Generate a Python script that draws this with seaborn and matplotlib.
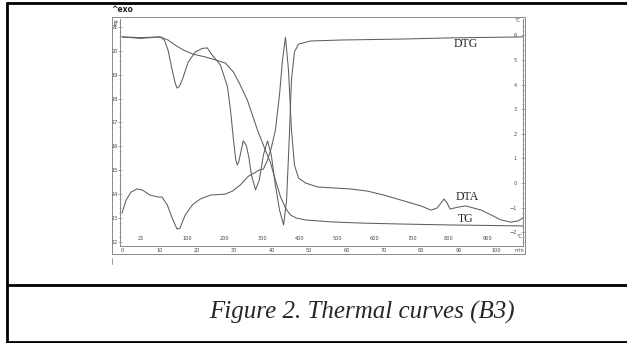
import matplotlib
matplotlib.use("Agg")
import matplotlib.pyplot as plt
import seaborn as sns
from matplotlib.lines import Line2D
from matplotlib.patches import Rectangle
from matplotlib.ticker import MultipleLocator

sns.set_style("white")
plt.rcParams["font.family"] = ["DejaVu Sans"]

# TG (mg, left scale) vs time (min)
tg_time = [0, 5, 10.2, 12.3, 14.2, 16.4, 18.8, 22.3, 24.9, 27.6, 29.8, 31.6, 33.5, 36.2,
           38.1, 39.7, 41.0, 42.4, 43.7, 45.0, 46.6, 49.1, 55.8, 63.8, 74.5, 87.9, 107.2]
tg_mass = [20.58, 20.55, 20.58, 20.45, 20.24, 20.03, 19.87, 19.74, 19.62, 19.49, 19.11, 18.57, 17.94, 16.69,
           15.93, 15.31, 14.59, 13.88, 13.42, 13.13, 13.00, 12.92, 12.84, 12.79, 12.75, 12.71, 12.67]

# DTG (drawn on the mg scale)
dtg_time = [0, 5, 10.2, 11.3, 12.3, 13.4, 14.2, 14.7, 15.3, 16.1, 17.7, 19.6, 21.5, 22.8, 24.1, 26.3,
            28.2, 29.0, 29.8, 30.4, 30.8, 31.2, 31.6, 32.4, 33.2, 33.9, 34.6, 35.7, 36.7, 37.8,
            38.9, 39.9, 41.0, 42.1, 43.2, 44.0, 44.8, 45.3, 46.1, 47.2, 50.4, 58.4, 74.5, 87.9, 107.2]
dtg_val = [20.58, 20.52, 20.58, 20.45, 20.03, 19.2, 18.65, 18.44, 18.50, 18.78, 19.53, 19.95, 20.10, 20.12,
           19.82, 19.41, 18.49, 17.52, 16.27, 15.45, 15.22, 15.35, 15.64, 16.23, 16.05, 15.55, 14.80,
           14.18, 14.59, 15.64, 16.23, 15.64, 14.38, 13.34, 12.71, 13.76, 16.69, 18.78, 19.95, 20.28,
           20.41, 20.45, 20.49, 20.54, 20.58]

# DTA (right scale) vs time (min)
dta_time = [0, 1.1, 2.4, 4.0, 5.4, 7.5, 9.7, 10.7, 12.1, 13.4, 14.7, 15.5, 16.9, 18.8, 20.9, 23.6,
            27.6, 29.5, 31.6, 33.8, 35.4, 36.7, 37.8, 38.9, 39.9, 41.0, 42.1, 42.9, 43.7, 44.5,
            45.3, 46.1, 47.2, 49.1, 52.3, 56.6, 61.1, 65.7, 70.0, 74.5, 79.9, 82.6, 84.2, 86.1,
            86.9, 87.7, 89.8, 91.9, 96.0, 98.7, 101.3, 104.0, 105.9, 107.2]
dta_val = [-1.22, -0.69, -0.37, -0.24, -0.28, -0.49, -0.57, -0.57, -0.89, -1.42, -1.87, -1.83, -1.30,
           -0.89, -0.65, -0.49, -0.45, -0.33, -0.08, 0.28, 0.41, 0.53, 0.57, 0.93, 1.42, 2.15, 3.58,
           5.0, 5.93, 4.59, 2.15, 0.73, 0.20, 0.0, -0.16, -0.20, -0.24, -0.33, -0.49, -0.69, -0.93,
           -1.10, -1.02, -0.65, -0.81, -1.06, -0.98, -0.93, -1.10, -1.30, -1.50, -1.59, -1.54, -1.42]

# furnace temperature labels along the time axis
temp_labels = ["25", "100", "200", "300", "400", "500", "600", "700", "800", "900"]
temp_pos = [5.1, 17.4, 27.3, 37.5, 47.5, 57.6, 67.6, 77.5, 87.4, 97.6]

W, H = 627, 343
fig = plt.figure(figsize=(W / 100, H / 100), dpi=100)

def fx(px):
    return px / W

def fy(py):
    return 1 - py / H

ax = fig.add_axes([fx(120), fy(246), (523 - 120) / W, (246 - 19) / H])
ax2 = ax.twinx()

line_col = "#5e5e5e"
axis_col = "#8a8a8a"

sns.lineplot(x=tg_time, y=tg_mass, ax=ax, color=line_col, lw=0.75, sort=False, estimator=None)
sns.lineplot(x=dtg_time, y=dtg_val, ax=ax, color=line_col, lw=0.75, sort=False, estimator=None)
sns.lineplot(x=dta_time, y=dta_val, ax=ax2, color=line_col, lw=0.75, sort=False, estimator=None)

ax.set_xlim(-0.54, 107.2)
ax.set_ylim(11.83, 21.33)
ax2.set_ylim(-2.56, 6.67)

for a in (ax, ax2):
    a.set_facecolor("none")
    a.set_xlabel("")
    a.set_ylabel("")
    a.spines["top"].set_visible(False)
    for s in ("left", "right", "bottom"):
        a.spines[s].set_color(axis_col)
        a.spines[s].set_linewidth(0.7)

ax.xaxis.set_minor_locator(MultipleLocator(2))
ax.yaxis.set_minor_locator(MultipleLocator(0.2))
ax2.yaxis.set_minor_locator(MultipleLocator(0.2))
ax.set_xticks(range(0, 101, 10))
ax.set_xticklabels([str(v) for v in range(0, 101, 10)])
ax.set_yticks(range(12, 22))
ax2.set_yticks(range(-2, 7))

ax.tick_params(axis="x", which="major", direction="inout", length=3, width=0.5,
               color=axis_col, labelsize=3.6, labelcolor="#444444", pad=0.3)
ax.tick_params(axis="y", which="major", direction="inout", length=3, width=0.5,
               color=axis_col, labelsize=3.6, labelcolor="#444444", pad=0.0)
ax.tick_params(axis="both", which="minor", direction="inout", length=1.6, width=0.4, color=axis_col)
ax2.tick_params(axis="y", which="major", direction="inout", length=3, width=0.5,
                color=axis_col, labelsize=3.6, labelcolor="#444444", pad=-6)
ax2.tick_params(axis="y", which="minor", direction="inout", length=1.6, width=0.4, color=axis_col)
for lab in ax2.get_yticklabels():
    lab.set_horizontalalignment("right")

# temperature scale written inside the plot, above the time axis
for lab, pos in zip(temp_labels, temp_pos):
    ax.text(pos, 0.035, lab, transform=ax.get_xaxis_transform(), fontsize=3.6,
            color="#444444", ha="center", va="center")
ax.text(107.0, 0.04, "°C", transform=ax.get_xaxis_transform(), fontsize=3.6,
        color="#444444", ha="right", va="center")
fig.text(fx(519), fy(251), "min", fontsize=3.6, color="#444444", ha="center", va="center")
fig.text(fx(113.5), fy(22), "mg", fontsize=3.4, color="#444444", ha="left", va="center", rotation=90)
fig.text(fx(517), fy(21), "°C", fontsize=3.6, color="#444444", ha="center", va="center")

# curve names
for name, xp, yp in [("DTG", 466, 44), ("DTA", 467, 197), ("TG", 466, 219)]:
    fig.text(fx(xp), fy(yp), name, family="Liberation Serif", fontsize=8.5,
             color="#222222", ha="center", va="center")

fig.text(fx(111), fy(9.5), "^exo", fontsize=5.5, weight="bold", color="#222222",
         ha="left", va="center")

# frame of the instrument plot
fig.add_artist(Rectangle((fx(112), fy(254)), (525 - 112) / W, (254 - 17) / H,
                         transform=fig.transFigure, fill=False, ec=axis_col, lw=0.7))
fig.add_artist(Line2D([fx(112), fx(112)], [fy(258), fy(264)], transform=fig.transFigure,
                      color=axis_col, lw=0.6))

# table borders
tbl = dict(transform=fig.transFigure, color="black", lw=2.0, solid_capstyle="butt")
fig.add_artist(Line2D([fx(6), 1], [fy(2.5), fy(2.5)], **tbl))
fig.add_artist(Line2D([fx(7), fx(7)], [fy(2), 0], **tbl))
fig.add_artist(Line2D([fx(6), 1], [fy(285), fy(285)], **tbl))
fig.add_artist(Line2D([fx(6), 1], [fy(342), fy(342)], **tbl))

fig.text(fx(362), fy(312), "Figure 2. Thermal curves (B3)", family="Liberation Serif",
         style="italic", fontsize=18, ha="center", va="center")

fig.savefig("out.png", dpi=100)
